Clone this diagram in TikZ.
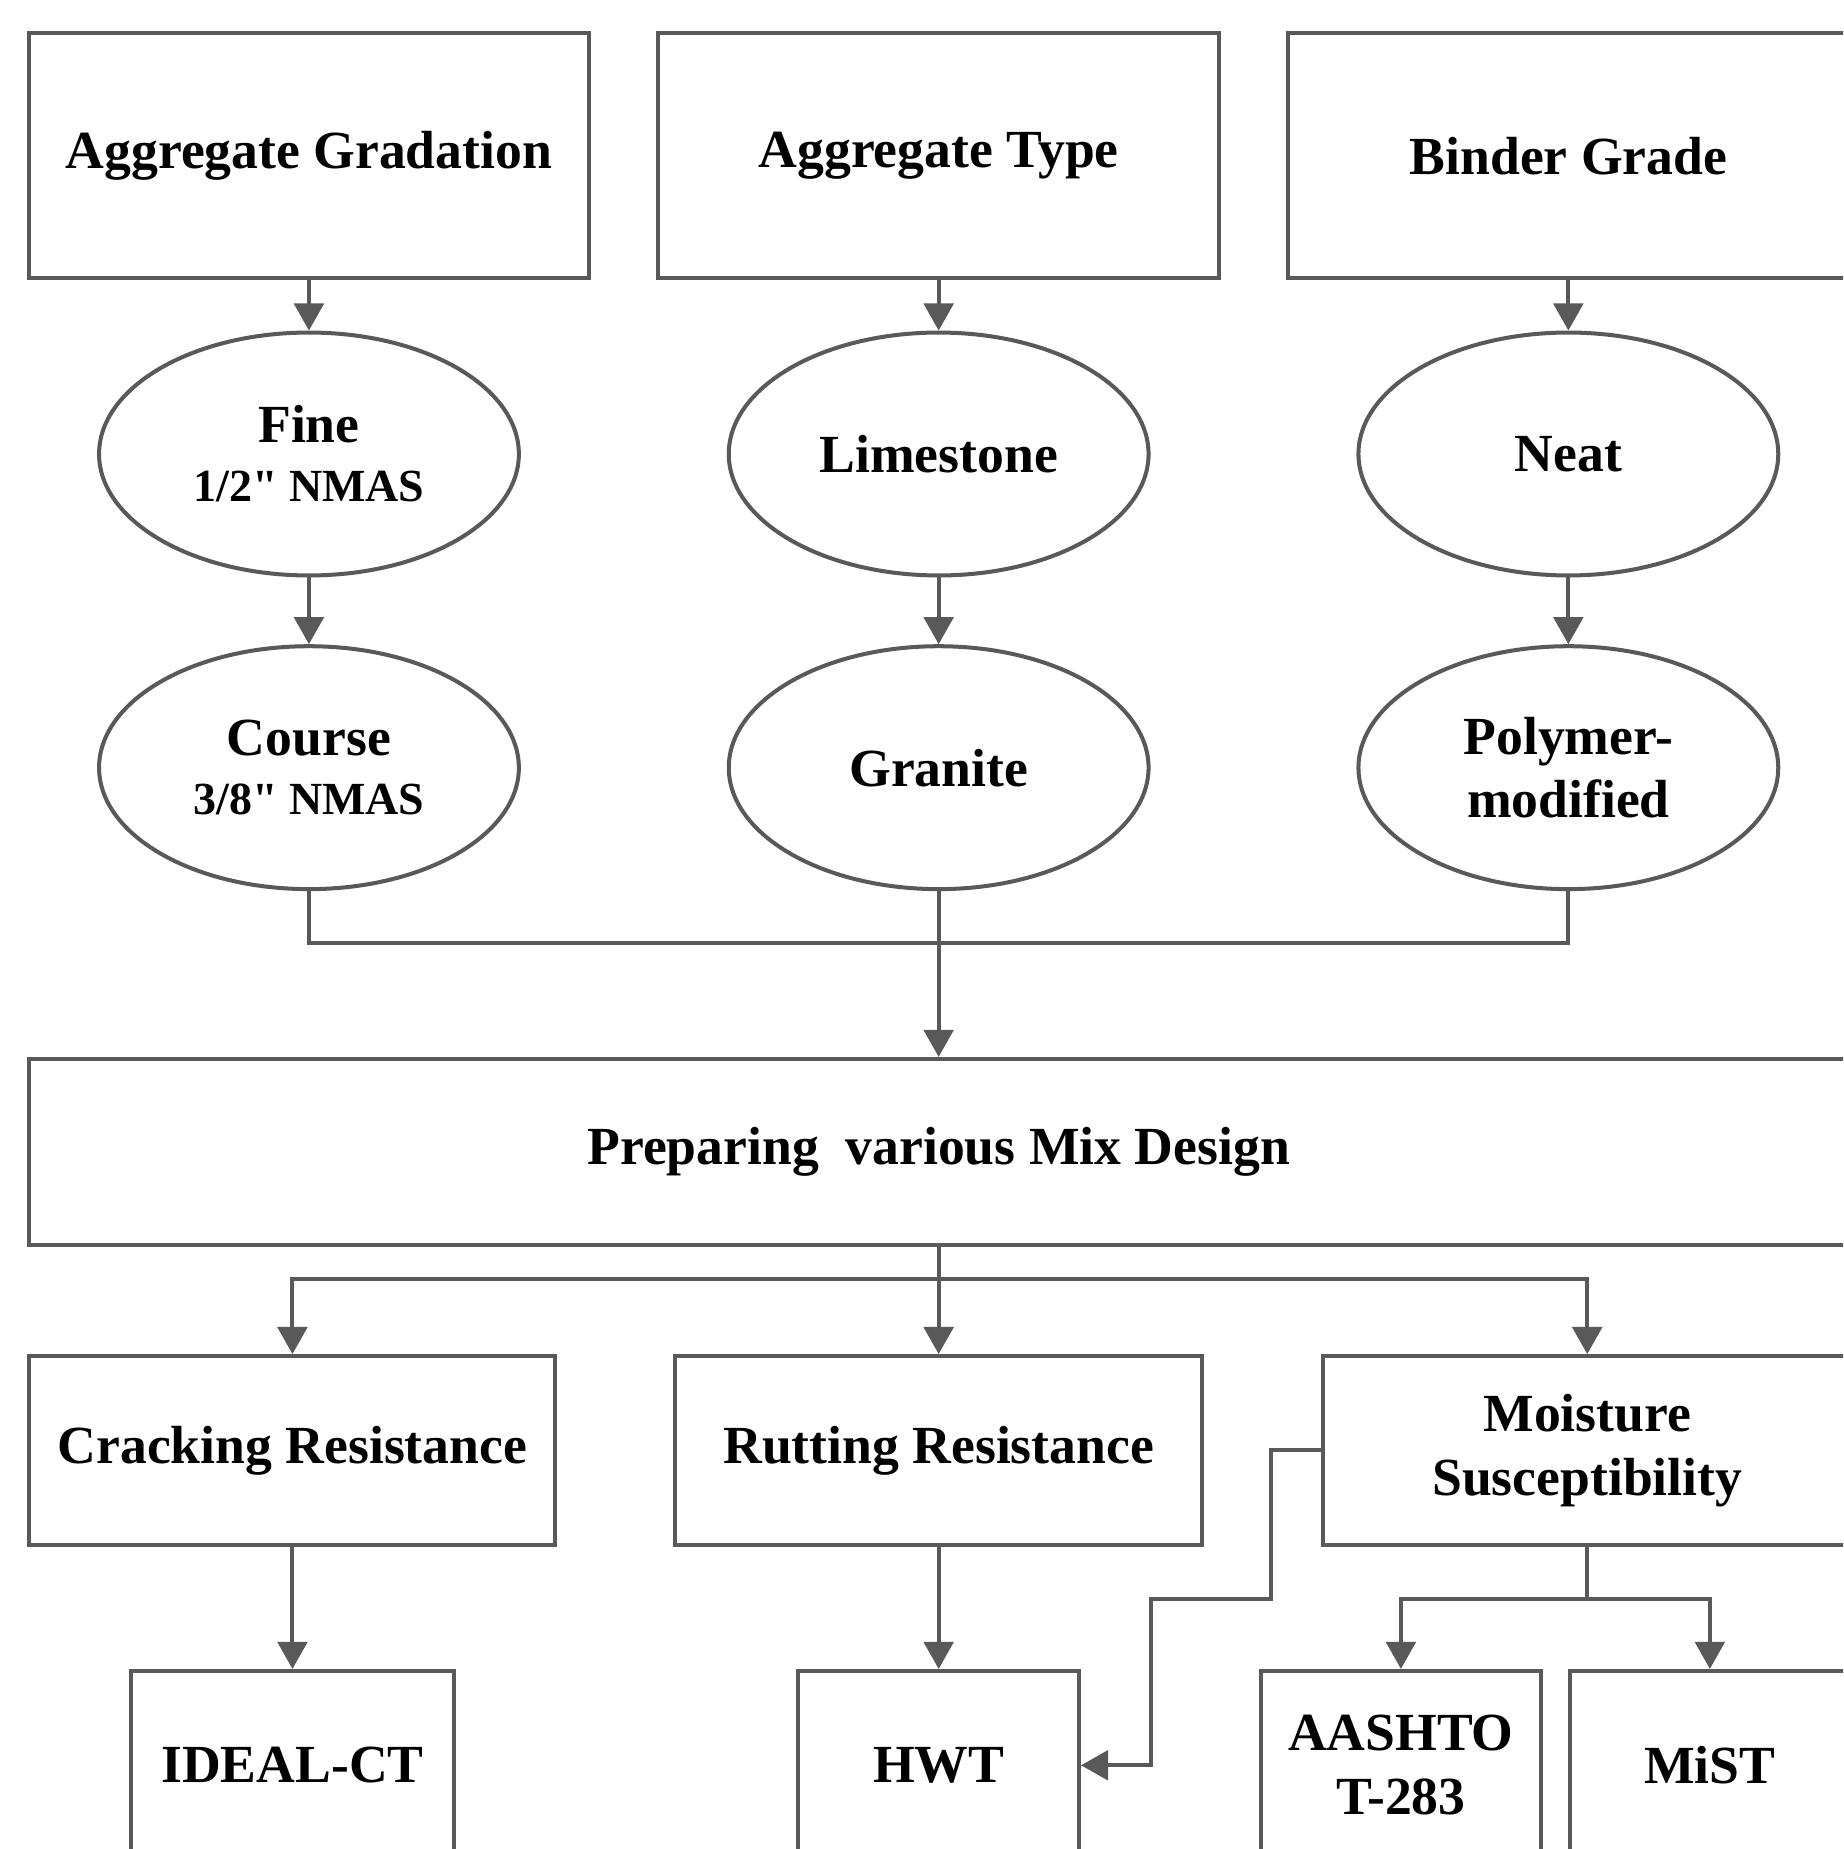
\documentclass[tikz,border=0pt]{standalone}
\usepackage{fontspec}
\setmainfont{Liberation Serif}
\newfontfamily\plainfam{Liberation Serif}
\usetikzlibrary{arrows.meta,shapes.geometric}
\definecolor{lc}{HTML}{595959}
\begin{document}
\begin{tikzpicture}[x=1pt,y=-1pt,
  txt/.style={font=\fontsize{45.5}{54}\selectfont\bfseries, align=center, inner sep=0pt, text=black},
  box/.style={txt, draw=lc, line width=3.4pt, rectangle},
  oval/.style={txt, draw=lc, line width=3.4pt, ellipse, minimum width=356pt, minimum height=206pt},
  link/.style={draw=lc, line width=3.4pt},
  arr/.style={link, -{Triangle[length=23pt,width=25pt]}}]
\useasboundingbox (0,0) rectangle (1563,1568);
\fill[white] (0,0) rectangle (1563,1568);
\clip (0,0) rectangle (1563,1568);

% top boxes
\node[box, minimum width=475pt, minimum height=208pt] (ag) at (262,132) {Aggregate Gradation};
\node[box, minimum width=476pt, minimum height=208pt] (at) at (796,132) {Aggregate Type};
\node[box, minimum width=476pt, minimum height=208pt] (bg) at (1330,132) {Binder Grade};

% ellipses row 1
\node[oval, font=\fontsize{45.5}{50}\selectfont\bfseries] (fine) at (262,385) {Fine\\{\plainfam\bfseries\fontsize{39}{50}\selectfont 1/2" NMAS}};
\node[oval] (lime) at (796,385) {Limestone};
\node[oval] (neat) at (1330,385) {Neat};

% ellipses row 2
\node[oval, font=\fontsize{45.5}{50}\selectfont\bfseries] (course) at (262,651) {Course\\{\plainfam\bfseries\fontsize{39}{50}\selectfont 3/8" NMAS}};
\node[oval] (gran) at (796,651) {Granite};
\node[oval] (poly) at (1330,651) {Polymer-\\modified};

% mix design
\node[box, minimum width=1542pt, minimum height=158pt] (prep) at (796,977) {Preparing\ \ various Mix Design};

% row 3
\node[box, minimum width=446pt, minimum height=160pt] (crack) at (248,1230) {Cracking Resistance};
\node[box, minimum width=447pt, minimum height=160pt] (rut) at (796,1230) {Rutting Resistance};
\node[box, minimum width=448pt, minimum height=160pt] (moist) at (1346,1230) {Moisture\\Susceptibility};

% row 4
\node[box, minimum width=274pt, minimum height=160pt] (ideal) at (248,1497) {IDEAL-CT};
\node[box, minimum width=238pt, minimum height=160pt] (hwt) at (796,1497) {HWT};
\node[box, minimum width=238pt, minimum height=160pt] (aashto) at (1188,1497) {AASHTO\\T-283};
\node[box, minimum width=238pt, minimum height=160pt] (mist) at (1450,1497) {MiST};

% connectors top
\draw[arr] (ag.south) -- (fine.north);
\draw[arr] (at.south) -- (lime.north);
\draw[arr] (bg.south) -- (neat.north);
\draw[arr] (fine.south) -- (course.north);
\draw[arr] (lime.south) -- (gran.north);
\draw[arr] (neat.south) -- (poly.north);

\coordinate (j) at (796,800);
\draw[link] (course.south) |- (j) -| (poly.south);
\draw[arr] (gran.south) -- (prep.north);

% branch to row 3
\coordinate (b) at (796,1085);
\draw[arr] (b) -| (crack.north);
\draw[arr] (b) -| (moist.north);
\draw[arr] (prep.south) -- (rut.north);

% row 3 to row 4
\draw[arr] (crack.south) -- (ideal.north);
\draw[arr] (rut.south) -- (hwt.north);
\coordinate (m) at (1346,1356);
\draw[link] (moist.south) -- (m);
\draw[arr] (m) -| (aashto.north);
\draw[arr] (m) -| (mist.north);

% moisture to HWT
\coordinate (r1) at (1078,1356);
\coordinate (r2) at (976,1497);
\draw[arr] (moist.west) -| (r1) -| (r2) -- (hwt.east);
\end{tikzpicture}
\end{document}
